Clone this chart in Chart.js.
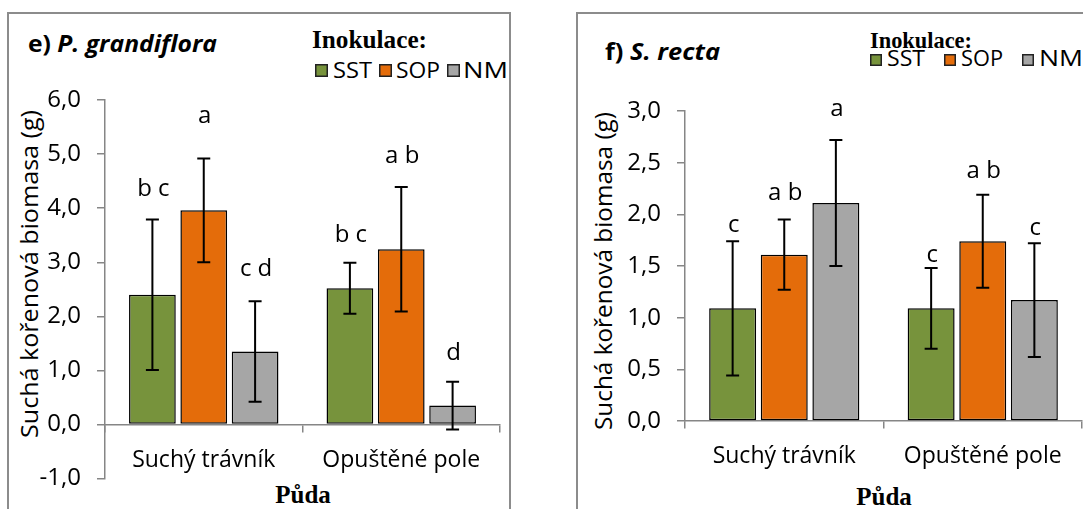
<!DOCTYPE html>
<html>
<head>
<meta charset="utf-8">
<title>Suchá kořenová biomasa</title>
<script src="https://cdn.jsdelivr.net/npm/chart.js@4.4.1/dist/chart.umd.min.js"></script>
<style>
  html, body { margin: 0; padding: 0; background: #fff; }
  body { width: 1083px; height: 509px; position: relative; overflow: hidden; }
  canvas, svg { position: absolute; top: 0; }
  #grand { left: 0; }
  #recta { left: 560px; }
  svg { left: 0; }
</style>
</head>
<body>
<svg id="frame" width="1083" height="509" xmlns="http://www.w3.org/2000/svg">
  <rect x="8" y="13" width="502" height="520" fill="none" stroke="#8c8c8c" stroke-width="2"/>
  <rect x="577" y="13" width="600" height="520" fill="none" stroke="#8c8c8c" stroke-width="2"/>

  <text x="28" y="52" font-family="Open Sans" font-weight="700" font-size="24" textLength="189" lengthAdjust="spacingAndGlyphs">e) <tspan font-style="italic">P. grandiflora</tspan></text>
  <text x="605" y="60" font-family="Open Sans" font-weight="700" font-size="24" textLength="115" lengthAdjust="spacingAndGlyphs">f) <tspan font-style="italic">S. recta</tspan></text>

  <text x="312" y="48" font-family="Liberation Serif" font-weight="700" font-size="25" textLength="115" lengthAdjust="spacingAndGlyphs">Inokulace:</text>
  <text x="870" y="48" font-family="Liberation Serif" font-weight="700" font-size="24" textLength="102" lengthAdjust="spacingAndGlyphs">Inokulace:</text>

  <text transform="translate(38,274) rotate(-90)" text-anchor="middle" font-family="Open Sans" font-size="23" textLength="328" lengthAdjust="spacingAndGlyphs">Suchá kořenová biomasa (g)</text>
  <text transform="translate(612,271) rotate(-90)" text-anchor="middle" font-family="Open Sans" font-size="23" textLength="318" lengthAdjust="spacingAndGlyphs">Suchá kořenová biomasa (g)</text>

  <text x="303" y="503" text-anchor="middle" font-family="Liberation Serif" font-weight="700" font-size="25">Půda</text>
  <text x="884" y="505" text-anchor="middle" font-family="Liberation Serif" font-weight="700" font-size="25">Půda</text>
  <g id="legends"></g>
</svg>
<canvas id="grand" width="540" height="509"></canvas>
<canvas id="recta" width="523" height="509"></canvas>

<script>
// soil type on the x axis, inoculum as the three bars in each group
const soils = ['Suchý trávník', 'Opuštěné pole'];
const inoculation = ['SST', 'SOP', 'NM'];

// e) P. grandiflora - mean dry root biomass (g) and SD
const grandSST = [2.40, 2.52];
const grandSOP = [3.96, 3.24];
const grandNM = [1.35, 0.35];
const grandSSTsd = [1.39, 0.47];
const grandSOPsd = [0.96, 1.15];
const grandNMsd = [0.93, 0.44];
const grandSSTlet = ['b c', 'b c'];
const grandSOPlet = ['a', 'a b'];
const grandNMlet = ['c d', 'd'];
const grandTicks = [-1, 0, 1, 2, 3, 4, 5, 6];

// f) S. recta
const rectaSST = [1.09, 1.09];
const rectaSOP = [1.61, 1.74];
const rectaNM = [2.11, 1.17];
const rectaSSTsd = [0.65, 0.39];
const rectaSOPsd = [0.34, 0.45];
const rectaNMsd = [0.61, 0.55];
const rectaSSTlet = ['c', 'c'];
const rectaSOPlet = ['a b', 'a b'];
const rectaNMlet = ['a', 'c'];
const rectaTicks = [0, 0.5, 1, 1.5, 2, 2.5, 3];

const fills = ['#77933c', '#e46c0a', '#a6a6a6'];
const axisGrey = '#868686';
const sans = '"Open Sans", sans-serif';

// legend squares + labels, one row per panel
const legendRows = [
  { boxX: [315, 379, 447], textX: [333, 396, 463], width: [39, 44, 45], boxY: 64, size: 13, base: 78, font: 22 },
  { boxX: [870, 944, 1022], textX: [887, 961, 1039], width: [38, 42, 44], boxY: 54, size: 12, base: 66, font: 21 }
];
const svgNS = 'http://www.w3.org/2000/svg';
const legendGroup = document.getElementById('legends');
legendRows.forEach(row => {
  inoculation.forEach((name, i) => {
    const r = document.createElementNS(svgNS, 'rect');
    r.setAttribute('x', row.boxX[i] + 0.75);
    r.setAttribute('y', row.boxY + 0.75);
    r.setAttribute('width', row.size - 1.5);
    r.setAttribute('height', row.size - 1.5);
    r.setAttribute('fill', fills[i]);
    r.setAttribute('stroke', '#222');
    r.setAttribute('stroke-width', 1.5);
    legendGroup.appendChild(r);
    const t = document.createElementNS(svgNS, 'text');
    t.setAttribute('x', row.textX[i]);
    t.setAttribute('y', row.base);
    t.setAttribute('font-family', 'Open Sans');
    t.setAttribute('font-size', row.font);
    t.setAttribute('textLength', row.width[i]);
    t.setAttribute('lengthAdjust', 'spacingAndGlyphs');
    t.textContent = name;
    legendGroup.appendChild(t);
  });
});

// SD whiskers and significance letters on top of each bar
const errLetters = {
  id: 'errLetters',
  afterDatasetsDraw(chart, args, opts) {
    const ctx = chart.ctx;
    const y = chart.scales.y;
    ctx.save();
    chart.data.datasets.forEach((ds, i) => {
      chart.getDatasetMeta(i).data.forEach((bar, j) => {
        const v = ds.data[j];
        const e = opts.sd[i][j];
        const top = y.getPixelForValue(v + e);
        const bot = y.getPixelForValue(v - e);
        ctx.strokeStyle = '#000';
        ctx.lineWidth = 2;
        ctx.beginPath();
        ctx.moveTo(bar.x, top); ctx.lineTo(bar.x, bot);
        ctx.moveTo(bar.x - 6.5, top); ctx.lineTo(bar.x + 6.5, top);
        ctx.moveTo(bar.x - 6.5, bot); ctx.lineTo(bar.x + 6.5, bot);
        ctx.stroke();
        ctx.fillStyle = '#000';
        ctx.font = '24px ' + sans;
        ctx.textAlign = 'center';
        ctx.textBaseline = 'alphabetic';
        ctx.fillText(opts.letters[i][j], bar.x + 1, top - opts.lift[i][j]);
      });
    });
    ctx.restore();
  }
};

function buildChart(id, series, sd, letters, lift, ticks, yWidth, pad) {
  return new Chart(document.getElementById(id), {
    type: 'bar',
    data: {
      labels: soils,
      datasets: series.map((d, i) => ({
        label: inoculation[i],
        data: d,
        backgroundColor: fills[i],
        borderColor: '#000',
        borderWidth: 1.5,
        borderSkipped: false,
        categoryPercentage: 0.78,
        barPercentage: 0.91
      }))
    },
    options: {
      responsive: false,
      animation: false,
      layout: { padding: pad },
      plugins: {
        legend: { display: false },
        tooltip: { enabled: false },
        errLetters: { sd, letters, lift }
      },
      scales: {
        x: {
          position: { y: 0 },
          grid: { drawOnChartArea: false, tickLength: 7, color: axisGrey, lineWidth: 1.5 },
          border: { color: axisGrey, width: 1.5 },
          ticks: { color: '#000', font: { family: sans, size: 23 }, padding: 15, maxRotation: 0 }
        },
        y: {
          min: ticks[0],
          max: ticks[ticks.length - 1],
          afterBuildTicks: s => { s.ticks = ticks.map(v => ({ value: v })); },
          afterFit: s => { s.width = yWidth; },
          grid: { drawOnChartArea: false, tickLength: 8, color: axisGrey, lineWidth: 1.5 },
          border: { color: axisGrey, width: 1.5 },
          ticks: {
            color: '#000',
            font: { family: sans, size: 24 },
            padding: 16,
            callback: v => Number(v).toFixed(1).replace('.', ',')
          }
        }
      }
    },
    plugins: [errLetters]
  });
}

buildChart('grand',
  [grandSST, grandSOP, grandNM],
  [grandSSTsd, grandSOPsd, grandNMsd],
  [grandSSTlet, grandSOPlet, grandNMlet],
  [[24, 21], [35, 24], [25, 22]],
  grandTicks, 105, { top: 100, right: 40, bottom: 26, left: 0 });

buildChart('recta',
  [rectaSST, rectaSOP, rectaNM],
  [rectaSSTsd, rectaSOPsd, rectaNMsd],
  [rectaSSTlet, rectaSOPlet, rectaNMlet],
  [[9, 6], [20, 17], [24, 8]],
  rectaTicks, 125, { top: 111, right: 1, bottom: 88, left: 0 });
</script>
</body>
</html>
